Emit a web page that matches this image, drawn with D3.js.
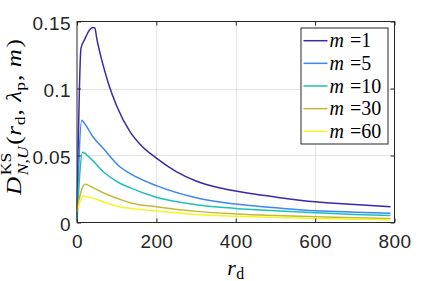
<!DOCTYPE html>
<html>
<head>
<meta charset="utf-8">
<script src="https://cdn.jsdelivr.net/npm/d3@7"></script>
<style>
  body { margin: 0; background: #fff; }
  svg { display: block; }
</style>
</head>
<body>
<div id="chart"></div>
<script>
// chart values
var mValues = [1, 5, 10, 30, 60];
var colors = ["#3E26A8", "#3A87F5", "#1FBFB8", "#C2B93A", "#F5F520"];

var rM1 = [0, 10, 20, 30, 40, 45, 50, 60, 70, 80, 100, 133, 160, 200, 250, 300, 350, 400, 450, 500, 600, 700, 790];
var dM1 = [0.004, 0.130, 0.137, 0.143, 0.1455, 0.145, 0.137, 0.124, 0.113, 0.103, 0.087, 0.068, 0.058, 0.048, 0.038, 0.031, 0.0265, 0.0235, 0.021, 0.019, 0.0155, 0.0135, 0.0118];

var rM5 = [0, 12, 20, 40, 66, 108, 133, 200, 300, 400, 435, 500, 600, 700, 790];
var dM5 = [0.004, 0.0763, 0.0735, 0.064, 0.0554, 0.0416, 0.0367, 0.0275, 0.0185, 0.0138, 0.0126, 0.011, 0.0088, 0.0077, 0.0069];

var rM10 = [0, 14, 30, 66, 108, 133, 200, 300, 400, 500, 600, 700, 790];
var dM10 = [0.001, 0.0524, 0.049, 0.0379, 0.0293, 0.026, 0.0188, 0.0133, 0.0105, 0.0088, 0.0073, 0.006, 0.0052];

var rM30 = [0, 20, 40, 66, 108, 133, 200, 300, 400, 500, 600, 700, 790];
var dM30 = [0.0105, 0.0285, 0.026, 0.0222, 0.0173, 0.0148, 0.0118, 0.0083, 0.0064, 0.0052, 0.0043, 0.0035, 0.0029];

var rM60 = [0, 16, 40, 66, 108, 133, 200, 300, 400, 500, 600, 700, 790];
var dM60 = [0.008, 0.0198, 0.0182, 0.0153, 0.0118, 0.0106, 0.0086, 0.006, 0.0047, 0.0038, 0.0031, 0.0025, 0.002];

var xTicks = [0, 200, 400, 600, 800];
var yTicks = [0, 0.05, 0.1, 0.15];
var yTickLabels = ["0", "0.05", "0.1", "0.15"];

var W = 436, H = 281;
// note: "top" is reserved on window, so use plot* names
var plotLeft = 77, plotRight = 394.5, plotTop = 21.5, plotBottom = 222.5;
var sansFont = "'Liberation Sans', Arial, sans-serif";
var serifFont = "'Liberation Serif', 'Times New Roman', serif";
var NB = "\u00a0";

var series = [
  {m: mValues[0], r: rM1, d: dM1},
  {m: mValues[1], r: rM5, d: dM5},
  {m: mValues[2], r: rM10, d: dM10},
  {m: mValues[3], r: rM30, d: dM30},
  {m: mValues[4], r: rM60, d: dM60}
];

var svg = d3.select("#chart").append("svg")
  .attr("width", W)
  .attr("height", H);

var x = d3.scaleLinear().domain([0, 800]).range([plotLeft, plotRight]);
var y = d3.scaleLinear().domain([0, 0.15]).range([plotBottom, plotTop]);

// grid
var grid = svg.append("g").attr("stroke", "#e3e3e3").attr("stroke-width", 1);
grid.selectAll("line.gx").data(xTicks.slice(1, -1)).enter().append("line")
  .attr("x1", function(d) { return Math.round(x(d)) + 0.5; })
  .attr("x2", function(d) { return Math.round(x(d)) + 0.5; })
  .attr("y1", plotTop).attr("y2", plotBottom);
grid.selectAll("line.gy").data(yTicks.slice(1, -1)).enter().append("line")
  .attr("y1", function(d) { return Math.round(y(d)) + 0.5; })
  .attr("y2", function(d) { return Math.round(y(d)) + 0.5; })
  .attr("x1", plotLeft).attr("x2", plotRight);

// curves
var line = d3.line()
  .x(function(p) { return x(p[0]); })
  .y(function(p) { return y(p[1]); })
  .curve(d3.curveMonotoneX);

svg.append("g").selectAll("path").data(series).enter().append("path")
  .attr("d", function(s) { return line(d3.zip(s.r, s.d)); })
  .attr("fill", "none")
  .attr("stroke", function(s, i) { return colors[i]; })
  .attr("stroke-width", 1.5);

// axes (box with inner ticks on all sides)
var axisColor = "#262626";
svg.append("g").attr("transform", "translate(0," + plotBottom + ")")
  .call(d3.axisBottom(x).tickValues(xTicks).tickSizeInner(-4).tickSizeOuter(0).tickPadding(12))
  .call(function(g) {
    g.select(".domain").remove();
    g.selectAll("line").attr("stroke", axisColor);
    g.selectAll("text").attr("font-family", sansFont).attr("font-size", 19)
      .attr("letter-spacing", 0.4).attr("fill", axisColor);
  });
svg.append("g").attr("transform", "translate(0," + plotTop + ")")
  .call(d3.axisTop(x).tickValues(xTicks).tickSizeInner(-4).tickSizeOuter(0).tickFormat(""))
  .call(function(g) { g.select(".domain").remove(); g.selectAll("line").attr("stroke", axisColor); });
svg.append("g").attr("transform", "translate(" + plotLeft + ",0)")
  .call(d3.axisLeft(y).tickValues(yTicks).tickSizeInner(-4).tickSizeOuter(0).tickPadding(6)
    .tickFormat(function(d, i) { return yTickLabels[i]; }))
  .call(function(g) {
    g.select(".domain").remove();
    g.selectAll("line").attr("stroke", axisColor);
    g.selectAll("text").attr("font-family", sansFont).attr("font-size", 19)
      .attr("letter-spacing", 0.4).attr("dy", "0.42em").attr("fill", axisColor);
  });
svg.append("g").attr("transform", "translate(" + plotRight + ",0)")
  .call(d3.axisRight(y).tickValues(yTicks).tickSizeInner(-4).tickSizeOuter(0).tickFormat(""))
  .call(function(g) { g.select(".domain").remove(); g.selectAll("line").attr("stroke", axisColor); });

svg.append("rect")
  .attr("x", plotLeft).attr("y", plotTop)
  .attr("width", plotRight - plotLeft).attr("height", plotBottom - plotTop)
  .attr("fill", "none").attr("stroke", axisColor).attr("stroke-width", 1);

// small helper laying out latex-like pieces on one baseline
function mathText(g, pieces, size) {
  var cx = 0, prevStart = 0;
  pieces.forEach(function(p) {
    var fs = size * (p.scale || 1);
    var t = g.append("text")
      .attr("font-family", serifFont)
      .attr("font-style", p.it ? "italic" : "normal")
      .attr("font-size", fs)
      .attr("fill", "#000")
      .attr("y", (p.dy || 0) * size)
      .text(p.t);
    var w = t.node().getComputedTextLength();
    var start = p.stack ? prevStart : cx + (p.dx || 0);
    t.attr("x", start + (p.stack ? (p.dx || 0) : 0));
    cx = Math.max(cx, start + (p.stack ? (p.dx || 0) : 0) + w);
    prevStart = start;
  });
  return cx;
}

// x label
var xl = svg.append("g");
var xw = mathText(xl, [
  {t: "r", it: true},
  {t: "d", scale: 0.72, dy: 0.2, dx: 0.5}
], 22);
xl.attr("transform", "translate(" + (x(400) - xw / 2) + ",275)");

// y label
var yl = svg.append("g");
var yw = mathText(yl, [
  {t: "D", it: true},
  {t: "KS", scale: 0.7, dy: -0.42, dx: 1.5},
  {t: "N,U", it: true, scale: 0.7, dy: 0.32, stack: true},
  {t: "(", dx: 1.5},
  {t: "r", it: true, dx: 0.5},
  {t: "d", scale: 0.7, dy: 0.2, dx: 0.5},
  {t: "," + NB, dx: 1},
  {t: "\u03bb", it: true, dx: 1},
  {t: "p", scale: 0.7, dy: 0.2},
  {t: "," + NB, dx: 1},
  {t: "m", it: true, dx: 1},
  {t: ")", dx: 1.5}
], 22);
var ySpan = 156;
var ySc = ySpan / yw;
yl.attr("transform", "translate(20.5,117) rotate(-90) scale(" + ySc + ",1) translate(" + (-yw / 2) + ",0)");

// legend
var lg = svg.append("g").attr("transform", "translate(301,28)");
lg.append("rect").attr("x", 0).attr("y", 0).attr("width", 87).attr("height", 116)
  .attr("fill", "#fff").attr("stroke", axisColor).attr("stroke-width", 1);
series.forEach(function(s, i) {
  var yy = 12.7 + i * 22.65;
  lg.append("line").attr("x1", 2.5).attr("x2", 26.5).attr("y1", yy).attr("y2", yy)
    .attr("stroke", colors[i]).attr("stroke-width", 1.5);
  var row = lg.append("g").attr("transform", "translate(28.5," + (yy + 6.5) + ")");
  mathText(row, [
    {t: "m", it: true},
    {t: "=" + s.m, dx: 6}
  ], 20);
});
</script>
</body>
</html>
